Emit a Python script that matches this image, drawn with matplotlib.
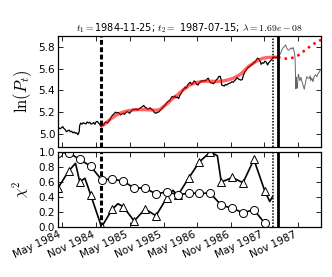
import matplotlib
matplotlib.use("Agg")
import matplotlib.pyplot as plt
import matplotlib.dates as mdates
import pandas as pd

plt.rcParams['mathtext.fontset'] = 'cm'
plt.rcParams['font.family'] = ['DejaVu Sans']
plt.rcParams['xtick.direction'] = 'in'
plt.rcParams['ytick.direction'] = 'in'
plt.rcParams['xtick.top'] = True
plt.rcParams['ytick.right'] = True

# ---------------- data ----------------
price_dates = [
    "1984-04-06", "1984-04-12", "1984-04-20", "1984-04-27", "1984-05-04", "1984-05-10",
    "1984-05-17", "1984-05-24", "1984-05-31", "1984-06-07", "1984-06-14", "1984-06-21",
    "1984-06-28", "1984-07-05", "1984-07-12", "1984-07-19", "1984-07-25", "1984-08-01",
    "1984-08-03", "1984-08-09", "1984-08-16", "1984-08-23", "1984-08-30", "1984-09-06",
    "1984-09-13", "1984-09-20", "1984-09-27", "1984-10-04", "1984-10-11", "1984-10-18",
    "1984-10-25", "1984-11-01", "1984-11-08", "1984-11-15", "1984-11-22", "1984-11-27",
    "1984-12-04", "1984-12-11", "1984-12-18", "1984-12-26", "1985-01-02", "1985-01-09",
    "1985-01-16", "1985-01-23", "1985-01-30", "1985-02-06", "1985-02-13", "1985-02-20",
    "1985-02-27", "1985-03-06", "1985-03-13", "1985-03-20", "1985-03-27", "1985-04-03",
    "1985-04-10", "1985-04-17", "1985-04-24", "1985-05-01", "1985-05-08", "1985-05-15",
    "1985-05-22", "1985-05-29", "1985-06-05", "1985-06-12", "1985-06-19", "1985-06-26",
    "1985-07-03", "1985-07-10", "1985-07-17", "1985-07-24", "1985-07-31", "1985-08-07",
    "1985-08-14", "1985-08-21", "1985-08-28", "1985-09-04", "1985-09-11", "1985-09-18",
    "1985-09-25", "1985-10-02", "1985-10-09", "1985-10-16", "1985-10-23", "1985-10-30",
    "1985-11-06", "1985-11-13", "1985-11-20", "1985-11-27", "1985-12-04", "1985-12-11",
    "1985-12-18", "1985-12-26", "1986-01-02", "1986-01-08", "1986-01-15", "1986-01-22",
    "1986-01-29", "1986-02-05", "1986-02-12", "1986-02-19", "1986-02-26", "1986-03-05",
    "1986-03-12", "1986-03-19", "1986-03-26", "1986-04-02", "1986-04-09", "1986-04-16",
    "1986-04-23", "1986-04-30", "1986-05-07", "1986-05-14", "1986-05-21", "1986-05-28",
    "1986-06-04", "1986-06-11", "1986-06-18", "1986-06-25", "1986-07-02", "1986-07-09",
    "1986-07-16", "1986-07-23", "1986-07-30", "1986-08-06", "1986-08-13", "1986-08-20",
    "1986-08-27", "1986-09-04", "1986-09-10", "1986-09-12", "1986-09-19", "1986-09-26",
    "1986-10-03", "1986-10-10", "1986-10-17", "1986-10-24", "1986-10-31", "1986-11-07",
    "1986-11-14", "1986-11-21", "1986-11-28", "1986-12-05", "1986-12-12", "1986-12-19",
    "1986-12-26", "1987-01-02", "1987-01-08", "1987-01-15", "1987-01-22", "1987-01-29",
    "1987-02-05", "1987-02-12", "1987-02-19", "1987-02-26", "1987-03-05", "1987-03-12",
    "1987-03-19", "1987-03-26", "1987-04-02", "1987-04-09", "1987-04-14", "1987-04-21",
    "1987-04-28", "1987-05-05", "1987-05-12", "1987-05-19", "1987-05-26", "1987-06-02",
    "1987-06-09", "1987-06-16", "1987-06-23", "1987-06-30", "1987-07-07", "1987-07-15",
]
price_values = [
    5.045, 5.055, 5.048, 5.058, 5.067, 5.050,
    5.040, 5.020, 5.030, 5.035, 5.020, 5.025,
    5.010, 5.018, 5.005, 5.010, 4.993, 5.020,
    5.075, 5.100, 5.090, 5.103, 5.098, 5.092,
    5.110, 5.100, 5.108, 5.090, 5.095, 5.105,
    5.088, 5.113, 5.115, 5.098, 5.085, 5.067,
    5.085, 5.080, 5.104, 5.110, 5.100, 5.120,
    5.135, 5.160, 5.175, 5.185, 5.200, 5.193,
    5.198, 5.190, 5.175, 5.184, 5.190, 5.180,
    5.195, 5.205, 5.200, 5.190, 5.205, 5.220,
    5.227, 5.223, 5.230, 5.220, 5.228, 5.235,
    5.245, 5.252, 5.262, 5.245, 5.240, 5.228,
    5.232, 5.240, 5.225, 5.220, 5.200, 5.190,
    5.195, 5.200, 5.205, 5.222, 5.230, 5.245,
    5.258, 5.272, 5.290, 5.300, 5.305, 5.325,
    5.345, 5.335, 5.350, 5.332, 5.340, 5.325,
    5.355, 5.375, 5.395, 5.410, 5.430, 5.420,
    5.450, 5.466, 5.475, 5.455, 5.465, 5.487,
    5.480, 5.455, 5.450, 5.470, 5.480, 5.490,
    5.485, 5.492, 5.488, 5.505, 5.512, 5.480,
    5.468, 5.470, 5.462, 5.475, 5.495, 5.505,
    5.527, 5.530, 5.495, 5.450, 5.445, 5.440,
    5.455, 5.450, 5.460, 5.465, 5.470, 5.480,
    5.475, 5.490, 5.500, 5.520, 5.505, 5.500,
    5.495, 5.500, 5.540, 5.565, 5.585, 5.600,
    5.615, 5.620, 5.635, 5.640, 5.655, 5.660,
    5.680, 5.696, 5.690, 5.665, 5.640, 5.655,
    5.650, 5.670, 5.660, 5.634, 5.655, 5.668,
    5.680, 5.695, 5.710, 5.700, 5.705, 5.722,
]

after_dates = [
    "1987-07-15", "1987-07-22", "1987-07-29", "1987-08-05", "1987-08-12", "1987-08-19",
    "1987-08-25", "1987-09-01", "1987-09-08", "1987-09-15", "1987-09-22", "1987-09-29",
    "1987-10-05", "1987-10-07", "1987-10-12", "1987-10-15", "1987-10-16", "1987-10-19",
    "1987-10-20", "1987-10-21", "1987-10-22", "1987-10-26", "1987-10-28", "1987-11-02",
    "1987-11-05", "1987-11-10", "1987-11-16", "1987-11-20", "1987-11-30", "1987-12-04",
    "1987-12-08", "1987-12-14", "1987-12-18", "1987-12-24", "1987-12-31", "1988-01-05",
    "1988-01-08", "1988-01-14", "1988-01-20", "1988-01-27", "1988-02-03", "1988-02-10",
    "1988-02-17", "1988-02-24", "1988-02-29",
]
after_values = [
    5.722, 5.725, 5.740, 5.772, 5.795, 5.805,
    5.819, 5.785, 5.770, 5.775, 5.790, 5.782,
    5.795, 5.780, 5.745, 5.695, 5.644, 5.415,
    5.467, 5.522, 5.482, 5.420, 5.450, 5.548,
    5.530, 5.490, 5.520, 5.490, 5.433, 5.411,
    5.450, 5.500, 5.527, 5.515, 5.510, 5.535,
    5.490, 5.515, 5.480, 5.530, 5.543, 5.527,
    5.555, 5.570, 5.589,
]

fit_dates = [
    "1984-11-25", "1984-12-20", "1985-01-20", "1985-02-20", "1985-03-20", "1985-04-20",
    "1985-05-20", "1985-06-20", "1985-07-20", "1985-08-20", "1985-09-20", "1985-10-10",
    "1985-10-31", "1985-11-25", "1985-12-20", "1986-01-20", "1986-02-15", "1986-03-20",
    "1986-04-20", "1986-05-20", "1986-06-20", "1986-07-20", "1986-08-20", "1986-09-20",
    "1986-10-20", "1986-11-14", "1986-12-15", "1986-12-30", "1987-02-04", "1987-03-21",
    "1987-04-20", "1987-05-20", "1987-06-20", "1987-07-15",
]
fit_values = [
    5.065, 5.095, 5.140, 5.175, 5.197, 5.212,
    5.220, 5.224, 5.224, 5.221, 5.218, 5.222,
    5.250, 5.285, 5.325, 5.365, 5.405, 5.447,
    5.468, 5.480, 5.485, 5.484, 5.482, 5.487,
    5.498, 5.512, 5.540, 5.558, 5.620, 5.670,
    5.694, 5.703, 5.705, 5.705,
]

extrap_dates = [
    "1987-07-15", "1987-08-05", "1987-09-01", "1987-10-01", "1987-11-01",
    "1987-12-01", "1988-01-01", "1988-02-01", "1988-03-04",
]
extrap_values = [5.705, 5.695, 5.692, 5.700, 5.722, 5.760, 5.800, 5.835, 5.865]

t1 = "1984-11-25"
t2 = "1987-07-15"
t_dotted = "1987-06-18"
lam_text = "1.69e-08"

marker_dates = [
    "1984-04-08", "1984-06-06", "1984-08-04", "1984-10-02", "1984-11-30",
    "1985-01-28", "1985-03-28", "1985-05-26", "1985-07-24", "1985-09-21",
    "1985-11-19", "1986-01-17", "1986-03-17", "1986-05-15", "1986-07-13",
    "1986-09-10", "1986-11-08", "1987-01-06", "1987-03-06", "1987-05-04",
]
circle_values = [
    0.99, 0.99, 0.90, 0.81, 0.63,
    0.64, 0.61, 0.52, 0.52, 0.44,
    0.47, 0.43, 0.45, 0.45, 0.45,
    0.29, 0.25, 0.19, 0.23, 0.05,
]
triangle_values = [
    0.52, 0.75, 0.60, 0.43, 0.00,
    0.24, 0.27, 0.08, 0.24, 0.15,
    0.39, 0.42, 0.65, 0.87, 1.00,
    0.60, 0.66, 0.59, 0.90, 0.48,
]
triangle_line_dates = [
    "1984-04-08", "1984-06-06", "1984-07-12", "1984-08-04", "1984-09-01", "1984-10-02",
    "1984-11-30", "1985-01-28", "1985-02-27", "1985-03-28", "1985-05-26", "1985-07-24",
    "1985-09-21", "1985-11-19", "1985-12-22", "1986-01-17", "1986-03-17", "1986-05-15",
    "1986-07-13", "1986-08-20", "1986-09-10", "1986-10-11", "1986-11-08", "1987-01-06",
    "1987-03-06", "1987-05-04", "1987-05-31", "1987-06-14",
]
triangle_line_values = [
    0.52, 0.75, 0.85, 0.60, 0.65, 0.43,
    0.00, 0.24, 0.31, 0.27, 0.08, 0.24,
    0.15, 0.39, 0.49, 0.42, 0.65, 0.87,
    1.00, 0.95, 0.60, 0.63, 0.66, 0.59,
    0.90, 0.48, 0.34, 0.40,
]

xlim = ("1984-04-08", "1988-03-04")

# ---------------- figure ----------------
D = pd.to_datetime
fig = plt.figure(figsize=(3.32, 2.77), dpi=100)
ax1 = fig.add_axes([0.1747, 0.4693, 0.7923, 0.4007])
ax2 = fig.add_axes([0.1747, 0.1805, 0.7923, 0.2708], sharex=ax1)

ax1.plot(D(price_dates), price_values, color='black', lw=0.9)
ax1.plot(D(after_dates), after_values, color='0.4', lw=0.7)
ax1.plot(D(fit_dates), fit_values, color='red', lw=2.4, alpha=0.6, solid_capstyle='butt')
ax1.plot(D(extrap_dates), extrap_values, color='red', lw=1.8, ls=':')

for ax in (ax1, ax2):
    ax.axvline(D(t1), color='black', lw=2.2, ls=(0, (1.6, 0.8)))
    ax.axvline(D(t_dotted), color='black', lw=1.1, ls=(0, (1, 1)))
    ax.axvline(D(t2), color='black', lw=2.0)

ax2.plot(D(triangle_line_dates), triangle_line_values, color='black', lw=1.2)
ax2.plot(D(marker_dates), triangle_values, ls='none', marker='^', ms=5.8,
         mfc='white', mec='black', mew=0.7)
ax2.plot(D(marker_dates), circle_values, color='black', lw=1.2, marker='o', ms=5.8,
         mfc='white', mec='black', mew=0.7)

ax1.set_xlim(D(xlim[0]), D(xlim[1]))
ax1.set_ylim(4.88, 5.9)
ax1.set_yticks([5.0, 5.2, 5.4, 5.6, 5.8])
ax2.set_ylim(0.0, 1.0)
ax2.set_yticks([0.0, 0.2, 0.4, 0.6, 0.8, 1.0])

ax2.xaxis.set_major_locator(mdates.MonthLocator(bymonth=[5, 11]))
ax2.xaxis.set_major_formatter(mdates.DateFormatter('%b %Y'))
plt.setp(ax1.get_xticklabels(), visible=False)
for lab in ax2.get_xticklabels():
    lab.set_rotation(25)
    lab.set_ha('right')

for ax in (ax1, ax2):
    ax.tick_params(labelsize=7.5, length=3.5, width=0.6, pad=2)
    for s in ax.spines.values():
        s.set_linewidth(0.9)

ax1.set_ylabel(r'$\ln(P_t)$', fontsize=12, labelpad=3)
ax2.set_ylabel(r'$\chi^2$', fontsize=11, labelpad=5)
ax1.set_title(r'$t_1 = $1984-11-25; $t_2 = $ 1987-07-15; $\lambda = ' + lam_text.replace('-', ' - ') + '$',
              fontsize=7, pad=3)

fig.savefig('out.png', dpi=100)
